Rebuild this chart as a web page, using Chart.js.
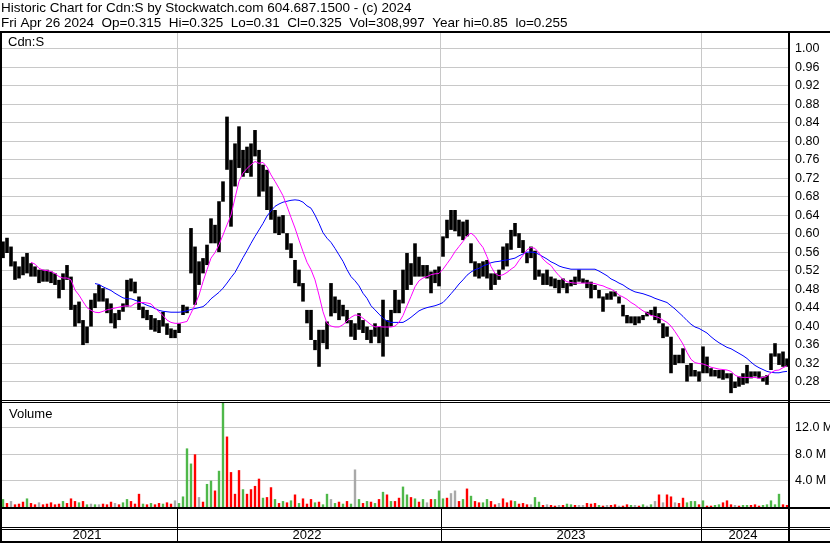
<!DOCTYPE html>
<html>
<head>
<meta charset="utf-8">
<script src="https://cdn.jsdelivr.net/npm/chart.js"></script>
<style>
  html, body { margin: 0; padding: 0; background: #fff; }
  canvas { display: block; }
</style>
</head>
<body>
<canvas id="c" width="830" height="543"></canvas>
<script>
// ---------- data (one bar ≈ 4 trading days) ----------
const titleLines = [
  'Historic Chart for Cdn:S by Stockwatch.com 604.687.1500 - (c) 2024',
  'Fri Apr 26 2024  Op=0.315  Hi=0.325  Lo=0.31  Cl=0.325  Vol=308,997  Year hi=0.85  lo=0.255'
];
const symbol = 'Cdn:S';
const years = ['2021', '2022', '2023', '2024'];
const yearFirstBar = [0, 44, 110, 175];
const barCount = 197;
const priceTicks = [0.28, 0.32, 0.36, 0.40, 0.44, 0.48, 0.52, 0.56, 0.60, 0.64, 0.68, 0.72, 0.76, 0.80, 0.84, 0.88, 0.92, 0.96, 1.00];
const volumeTicks = [4, 8, 12]; // millions

const priceHigh = [
0.583,0.591,0.572,0.540,0.529,0.550,0.558,0.536,0.529,0.522,
0.522,0.522,0.518,0.514,0.500,0.514,0.532,0.507,0.446,0.453,
0.413,0.399,0.457,0.471,0.489,0.482,0.460,0.449,0.428,0.435,
0.449,0.500,0.503,0.496,0.464,0.442,0.435,0.424,0.417,0.413,
0.431,0.406,0.395,0.392,0.406,0.446,0.442,0.612,0.572,0.540,
0.547,0.576,0.633,0.619,0.670,0.713,0.853,0.759,0.795,0.832,
0.781,0.788,0.795,0.824,0.781,0.749,0.738,0.702,0.651,0.637,
0.640,0.601,0.579,0.543,0.522,0.493,0.435,0.435,0.370,0.392,
0.392,0.410,0.493,0.464,0.457,0.446,0.435,0.413,0.406,0.428,
0.413,0.399,0.392,0.406,0.399,0.457,0.413,0.435,0.478,0.457,
0.522,0.558,0.536,0.579,0.550,0.532,0.532,0.518,0.522,0.529,
0.594,0.630,0.651,0.651,0.630,0.626,0.630,0.579,0.540,0.536,
0.540,0.543,0.514,0.514,0.522,0.572,0.579,0.608,0.623,0.601,
0.586,0.558,0.572,0.563,0.522,0.514,0.522,0.507,0.503,0.500,
0.503,0.493,0.500,0.507,0.522,0.503,0.500,0.496,0.489,0.478,
0.464,0.471,0.475,0.475,0.464,0.446,0.424,0.421,0.421,0.421,
0.424,0.431,0.435,0.442,0.428,0.406,0.399,0.377,0.338,0.338,
0.352,0.316,0.320,0.305,0.302,0.356,0.334,0.309,0.305,0.305,
0.305,0.298,0.298,0.280,0.291,0.298,0.316,0.302,0.302,0.302,
0.291,0.294,0.341,0.363,0.341,0.345,0.330
];
const priceLow = [
0.547,0.558,0.529,0.500,0.503,0.510,0.514,0.507,0.507,0.493,
0.496,0.496,0.493,0.489,0.460,0.478,0.500,0.435,0.399,0.406,
0.359,0.363,0.399,0.439,0.453,0.453,0.428,0.406,0.395,0.413,
0.431,0.442,0.475,0.471,0.435,0.417,0.413,0.392,0.388,0.385,
0.399,0.381,0.374,0.374,0.385,0.424,0.428,0.514,0.446,0.489,
0.514,0.532,0.579,0.579,0.560,0.669,0.738,0.615,0.702,0.742,
0.723,0.731,0.723,0.767,0.680,0.691,0.651,0.630,0.601,0.597,
0.601,0.565,0.547,0.493,0.486,0.453,0.406,0.370,0.348,0.312,
0.363,0.350,0.421,0.428,0.413,0.421,0.406,0.377,0.370,0.392,
0.385,0.370,0.363,0.377,0.363,0.334,0.377,0.399,0.428,0.428,
0.449,0.478,0.489,0.507,0.507,0.507,0.503,0.471,0.493,0.486,
0.550,0.590,0.608,0.605,0.594,0.586,0.594,0.536,0.507,0.503,
0.507,0.503,0.478,0.489,0.500,0.522,0.529,0.565,0.594,0.569,
0.558,0.536,0.547,0.500,0.507,0.489,0.489,0.486,0.482,0.471,
0.482,0.471,0.486,0.489,0.496,0.493,0.482,0.460,0.478,0.460,
0.431,0.457,0.457,0.464,0.449,0.421,0.406,0.406,0.402,0.406,
0.413,0.421,0.424,0.413,0.406,0.374,0.377,0.298,0.316,0.320,
0.320,0.280,0.291,0.291,0.280,0.298,0.298,0.291,0.291,0.287,
0.284,0.287,0.255,0.266,0.269,0.273,0.276,0.287,0.291,0.287,
0.280,0.273,0.305,0.334,0.316,0.312,0.312
];
const avgShort = [
null,null,null,null,null,null,null,0.538,0.534,0.525,
0.521,0.520,0.518,0.514,0.507,0.504,0.504,0.500,0.478,0.467,
0.453,0.440,0.434,0.430,0.429,0.432,0.435,0.437,0.439,0.441,
0.443,0.444,0.443,0.449,0.451,0.451,0.450,0.448,0.439,0.431,
0.423,0.413,0.408,0.406,0.406,0.408,0.410,0.428,0.446,0.467,
0.496,0.522,0.547,0.559,0.576,0.597,0.619,0.640,0.677,0.713,
0.731,0.741,0.749,0.756,0.752,0.754,0.744,0.727,0.713,0.698,
0.682,0.659,0.635,0.612,0.586,0.561,0.538,0.522,0.500,0.467,
0.431,0.406,0.400,0.398,0.398,0.403,0.411,0.419,0.424,0.423,
0.417,0.410,0.403,0.398,0.399,0.398,0.398,0.398,0.400,0.408,
0.423,0.444,0.464,0.485,0.498,0.504,0.507,0.511,0.513,0.514,
0.523,0.535,0.547,0.561,0.572,0.583,0.595,0.601,0.594,0.581,
0.570,0.550,0.529,0.514,0.509,0.511,0.516,0.523,0.529,0.542,
0.553,0.565,0.570,0.568,0.558,0.545,0.537,0.531,0.519,0.509,
0.501,0.496,0.494,0.493,0.493,0.493,0.493,0.493,0.492,0.489,
0.487,0.483,0.480,0.475,0.467,0.463,0.458,0.451,0.446,0.439,
0.433,0.428,0.423,0.421,0.418,0.413,0.408,0.400,0.388,0.375,
0.361,0.343,0.328,0.321,0.319,0.318,0.315,0.311,0.309,0.307,
0.306,0.305,0.302,0.294,0.290,0.289,0.289,0.289,0.289,0.287,
0.289,0.292,0.299,0.304,0.305,0.310,0.314
];
const avgLong = [
null,null,null,null,null,null,null,null,null,null,
null,null,null,null,null,null,null,null,null,null,
null,null,null,0.492,0.490,0.485,0.481,0.477,0.471,0.466,
0.461,0.459,0.459,0.456,0.453,0.449,0.445,0.442,0.438,0.434,
0.432,0.431,0.430,0.430,0.430,0.431,0.433,0.436,0.438,0.440,
0.442,0.449,0.459,0.466,0.473,0.482,0.493,0.505,0.516,0.532,
0.548,0.563,0.579,0.594,0.608,0.622,0.638,0.649,0.659,0.664,
0.668,0.670,0.672,0.673,0.672,0.668,0.660,0.655,0.640,0.622,
0.602,0.590,0.581,0.568,0.554,0.540,0.522,0.507,0.498,0.487,
0.471,0.460,0.444,0.435,0.426,0.417,0.411,0.408,0.408,0.408,
0.408,0.413,0.419,0.426,0.433,0.437,0.440,0.442,0.444,0.447,
0.451,0.460,0.470,0.480,0.491,0.500,0.510,0.517,0.522,0.525,
0.530,0.533,0.537,0.539,0.540,0.542,0.543,0.545,0.547,0.552,
0.556,0.560,0.560,0.559,0.555,0.550,0.545,0.539,0.535,0.530,
0.527,0.525,0.523,0.523,0.523,0.523,0.523,0.523,0.523,0.519,
0.514,0.509,0.502,0.498,0.493,0.489,0.483,0.478,0.474,0.472,
0.470,0.467,0.464,0.460,0.457,0.454,0.451,0.444,0.437,0.429,
0.421,0.412,0.404,0.398,0.395,0.390,0.385,0.377,0.370,0.364,
0.359,0.354,0.351,0.346,0.341,0.336,0.330,0.322,0.315,0.310,
0.306,0.302,0.300,0.299,0.299,0.301,0.302
];
const volumeM = [
1.2,0.6,0.9,0.4,0.5,0.8,1.3,0.6,0.4,0.7,
0.4,0.5,0.7,0.4,0.5,0.9,0.6,1.3,0.9,0.7,
0.9,0.4,0.5,0.4,0.4,0.5,0.4,0.8,0.6,0.4,
0.7,1.2,0.9,0.5,2.0,0.5,0.4,0.6,0.4,0.6,
0.5,0.7,0.5,1.0,0.6,1.6,8.9,6.6,8.0,1.5,
0.8,3.5,4.0,2.5,5.5,15.9,10.7,5.3,2.0,5.6,
2.7,2.0,2.7,3.2,4.3,1.4,1.5,3.0,1.2,0.6,
0.9,0.7,1.0,1.9,0.6,1.3,0.5,1.2,0.7,0.8,
0.4,2.0,1.2,0.6,0.8,0.5,0.9,0.5,5.7,1.2,
0.6,0.9,0.8,0.6,1.2,2.3,1.9,0.9,0.9,1.4,
3.1,1.9,1.5,1.3,0.8,1.2,0.7,1.2,1.2,2.5,
1.3,1.4,2.1,2.5,0.9,1.2,2.8,1.7,0.9,0.7,
0.7,1.2,0.9,0.4,0.6,1.3,0.7,1.0,0.9,0.5,
0.6,0.4,0.4,1.5,0.8,0.3,0.4,0.3,0.2,0.3,
0.3,0.5,0.4,0.3,0.3,0.3,0.6,0.5,0.6,0.3,
0.2,0.3,0.3,0.4,0.2,0.2,0.4,0.3,0.3,0.2,
0.4,0.2,0.4,0.9,1.9,0.7,1.9,1.6,0.7,0.6,
1.4,0.7,0.9,0.9,0.4,1.0,0.2,0.2,0.3,0.4,
0.7,1.0,0.4,0.3,0.2,0.3,0.3,0.3,0.4,0.2,
0.3,0.4,1.0,0.4,2.0,0.4,0.3
];
// g = closed up, r = closed down, n = unchanged
const volumeDir = (
'grnrrrgrrn' + 'rrrrrgrrrg' + 'rgngnrrrnr' + 'ggrrrgrgrr' + 'grrnggggrn' +
'rggrggrrrr' + 'grrrrgrrgr' + 'grgrgrrrgr' + 'ggngrgrgng' + 'rgrgrgrgrr' +
'ggrgrgnrgg' + 'grnnrgrgrr' + 'ggrrnrrrgr' + 'rrnggrnrrn' + 'rggrnnrrrg' +
'rnrrnrrgnr' + 'gngnrnrrnr' + 'rgggrgrrgg' + 'rrrnrggrrr' + 'gggggrrn').split('');

// ---------- chart ----------
const FONT = "'Liberation Sans', Arial, Helvetica, sans-serif";
const colorFor = { g: '#4fb84a', r: '#ff0000', n: '#a9a9a9' };
const labels = [];
for (let k = 0; k < years.length; k++) {
  const end = k + 1 < yearFirstBar.length ? yearFirstBar[k + 1] : barCount;
  for (let i = yearFirstBar[k]; i < end; i++) labels.push(years[k]);
}
const yearLabelBar = years.map((y, k) => {
  const end = k + 1 < yearFirstBar.length ? yearFirstBar[k + 1] : barCount;
  return Math.floor((yearFirstBar[k] + end - 1) / 2);
});

const framePlugin = {
  id: 'frame',
  afterDraw(chart) {
    const ctx = chart.ctx, W = chart.width, H = chart.height, ca = chart.chartArea;
    const xS = chart.scales.x, yS = chart.scales.y, vS = chart.scales.v;
    ctx.save();
    ctx.fillStyle = '#000';
    ctx.fillRect(0, ca.top - 1, W, 2);                 // under title
    ctx.fillRect(0, ca.top - 1, 2, H - ca.top + 1);    // left edge
    ctx.fillRect(ca.right - 1, ca.top - 1, 2, H);      // right edge of plot
    const sep = Math.round(yS.bottom);
    ctx.fillRect(0, sep - 1, W, 1);                    // price / volume double line
    ctx.fillRect(0, sep + 1, W, 1);
    const b = Math.round(ca.bottom);
    ctx.fillRect(0, b, W, 2);                          // under volume
    ctx.fillRect(0, b + 20, W, 1);                     // double line above years
    ctx.fillRect(0, b + 22, W, 1);
    ctx.fillRect(0, H - 2, W, 2);                      // bottom
    for (let k = 1; k < yearFirstBar.length; k++) {
      const i = yearFirstBar[k];
      const x = Math.round((xS.getPixelForValue(i - 1) + xS.getPixelForValue(i)) / 2);
      ctx.fillRect(x, b, 1, H - b);
    }
    ctx.font = '13px ' + FONT;
    ctx.textBaseline = 'middle';
    ctx.textAlign = 'left';
    ctx.fillText(symbol, 8, ca.top + 10);
    ctx.fillText('Volume', 9, vS.top + 13);
    ctx.restore();
  }
};

new Chart(document.getElementById('c'), {
  type: 'bar',
  data: {
    labels: labels,
    datasets: [
      { type: 'line', data: avgShort, yAxisID: 'y', borderColor: '#ff00ff', borderWidth: 1,
        pointRadius: 0, tension: 0, order: 0 },
      { type: 'line', data: avgLong, yAxisID: 'y', borderColor: '#0000ff', borderWidth: 1,
        pointRadius: 0, tension: 0, order: 1 },
      { type: 'bar', data: priceLow.map((lo, i) => [lo, priceHigh[i]]), yAxisID: 'y',
        backgroundColor: '#000', barPercentage: 1, categoryPercentage: 0.9, grouped: false, order: 2 },
      { type: 'bar', data: volumeM, yAxisID: 'v',
        backgroundColor: volumeDir.map(d => colorFor[d]), barPercentage: 1, categoryPercentage: 0.6,
        grouped: false, order: 3 }
    ]
  },
  options: {
    responsive: false,
    animation: false,
    devicePixelRatio: 1,
    layout: { padding: { left: 1, right: 0, top: 0, bottom: 0 } },
    plugins: {
      legend: { display: false },
      tooltip: { enabled: false },
      title: {
        display: true, align: 'start', text: titleLines, color: '#000',
        font: { family: FONT, size: 13.5, weight: 'normal', lineHeight: '15px' },
        padding: { top: 1, bottom: 1 }
      }
    },
    scales: {
      x: {
        type: 'category',
        offset: true,
        afterFit: s => { s.height = 36; s.paddingLeft = 0; s.paddingRight = 0; },
        border: { display: false },
        grid: {
          offset: true, drawTicks: false, lineWidth: 1,
          color: c => (c.index > 0 && yearFirstBar.includes(c.index)) ? '#c8c8c8' : 'rgba(0,0,0,0)'
        },
        ticks: {
          autoSkip: false, maxRotation: 0, minRotation: 0, padding: 21, color: '#000',
          font: { family: FONT, size: 13 },
          callback: (v, i) => { const k = yearLabelBar.indexOf(i); return k >= 0 ? years[k] : ''; }
        }
      },
      y: {
        type: 'linear', position: 'right', stack: 'panels', stackWeight: 369,
        min: 0.238, max: 1.036,
        afterBuildTicks: s => { s.ticks = priceTicks.map(v => ({ value: v })); },
        afterFit: s => { s.width = 41; s.paddingTop = 0; s.paddingBottom = 0; },
        border: { display: false },
        grid: { color: '#c8c8c8', drawTicks: false, lineWidth: 1 },
        ticks: { autoSkip: false, color: '#000', padding: 6, font: { family: FONT, size: 12.5 }, callback: v => v.toFixed(2) }
      },
      v: {
        type: 'linear', position: 'right', stack: 'panels', stackWeight: 106,
        min: 0, max: 16.1,
        afterBuildTicks: s => { s.ticks = volumeTicks.map(v => ({ value: v })); },
        afterFit: s => { s.width = 41; s.paddingTop = 0; s.paddingBottom = 0; },
        border: { display: false },
        grid: { color: '#c8c8c8', drawTicks: false, lineWidth: 1 },
        ticks: { autoSkip: false, color: '#000', padding: 6, font: { family: FONT, size: 12.5 }, callback: v => v.toFixed(1) + ' M' }
      }
    }
  },
  plugins: [framePlugin]
});
</script>
</body>
</html>
